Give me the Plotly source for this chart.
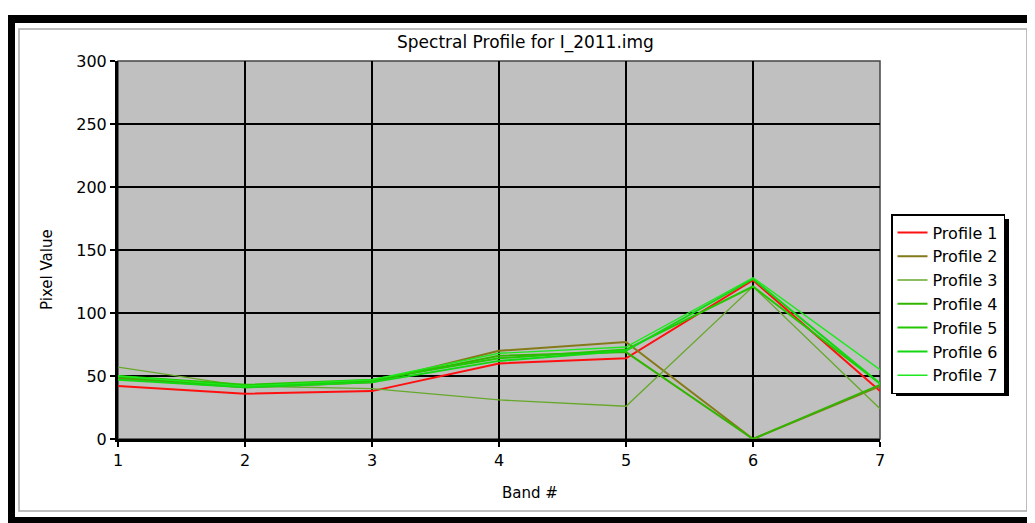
import plotly.graph_objects as go

bands = [1, 2, 3, 4, 5, 6, 7]
profile_names = ["Profile 1", "Profile 2", "Profile 3", "Profile 4", "Profile 5", "Profile 6", "Profile 7"]
p1 = [42, 36, 38, 60, 64, 126, 38]
p2 = [48, 41, 45, 70, 77, 0, 42]
p3 = [57, 42, 40, 31, 26, 121, 24]
p4 = [49, 42, 46, 66, 69, 0, 43]
p5 = [50, 43, 47, 64, 71, 121, 44]
p6 = [47, 41, 45, 62, 70, 127, 44]
p7 = [50, 42, 47, 68, 73, 128, 55]
series = [p1, p2, p3, p4, p5, p6, p7]
colors = ["#ff1010", "#857a1a", "#66a82a", "#33b400", "#22c800", "#12d812", "#1ee81e"]
widths = [2, 2, 1.3, 2, 2, 2, 1.4]

OFF = 8  # page body margin
W, H = 1035, 523
L, R, T, B = 118 - OFF, 880 - OFF, 61 - OFF, 439 - OFF  # plot area in figure pixels
FONT = "DejaVu Sans"


def px(x):
    # x given in screen pixels
    return (x - OFF - L) / (R - L)


def py(y):
    return (B - (y - OFF)) / (B - T)


fig = go.Figure()
for name, vals, c, w in zip(profile_names, series, colors, widths):
    fig.add_trace(go.Scatter(x=bands, y=vals, mode="lines", name=name,
                             line=dict(color=c, width=w)))

shapes = []
# outer black frame (screen coordinates)
for x0, y0, x1, y1 in [(8, 15, 1035, 23), (8, 15, 15, 523), (8, 517, 1035, 523), (1031, 15, 1035, 523)]:
    shapes.append(dict(type="rect", xref="paper", yref="paper", x0=px(x0), x1=px(x1),
                       y0=py(y0), y1=py(y1), fillcolor="black", line=dict(width=0), layer="below"))
# inner sunken border
shapes.append(dict(type="rect", xref="paper", yref="paper", x0=px(19), x1=px(1027),
                   y0=py(29), y1=py(511), line=dict(color="#a8a8a8", width=1.5),
                   fillcolor="rgba(0,0,0,0)", layer="below"))
# top/right plot border
shapes.append(dict(type="rect", xref="paper", yref="paper", x0=0, x1=1, y0=0, y1=1,
                   line=dict(color="#444444", width=1.5), layer="below"))
# legend shadow
shapes.append(dict(type="rect", xref="paper", yref="paper", x0=px(896), x1=px(1009),
                   y0=py(219), y1=py(396), fillcolor="black", line=dict(width=0)))

annotations = [
    dict(text="Spectral Profile for I_2011.img", xref="paper", yref="paper",
         x=px(525), y=py(43), xanchor="center", yanchor="middle", showarrow=False,
         font=dict(family=FONT, size=17, color="black")),
    dict(text="Pixel Value", xref="paper", yref="paper", x=px(47), y=py(270),
         xanchor="center", yanchor="middle", textangle=-90,
         showarrow=False, font=dict(family=FONT, size=15, color="black")),
    dict(text="Band #", xref="paper", yref="paper", x=px(530), y=py(493),
         xanchor="center", yanchor="middle",
         showarrow=False, font=dict(family=FONT, size=15, color="black")),
]

fig.update_layout(
    width=W, height=H,
    margin=dict(l=L, r=W - R, t=T, b=H - B, pad=0),
    paper_bgcolor="white",
    plot_bgcolor="#c0c0c0",
    showlegend=True,
    legend=dict(x=px(891), y=py(214), xanchor="left", yanchor="top",
                bgcolor="white", bordercolor="black", borderwidth=1.5,
                font=dict(family=FONT, size=16, color="black"),
                tracegroupgap=0),
    shapes=shapes,
    annotations=annotations,
    font=dict(family=FONT, color="black"),
)
fig.update_xaxes(range=[1, 7], tickmode="array", tickvals=bands,
                 ticks="outside", ticklen=5, tickcolor="black", tickwidth=1.5,
                 showline=True, linecolor="black", linewidth=3,
                 showgrid=True, gridcolor="black", gridwidth=2, zeroline=False,
                 tickfont=dict(family=FONT, size=16, color="black"))
fig.update_yaxes(range=[0, 300], tickmode="array", tickvals=[0, 50, 100, 150, 200, 250, 300],
                 ticks="outside", ticklen=5, tickcolor="black", tickwidth=1.5,
                 showline=True, linecolor="black", linewidth=3,
                 showgrid=True, gridcolor="black", gridwidth=2, zeroline=False,
                 tickfont=dict(family=FONT, size=16, color="black"))

fig.write_html("out.html")
